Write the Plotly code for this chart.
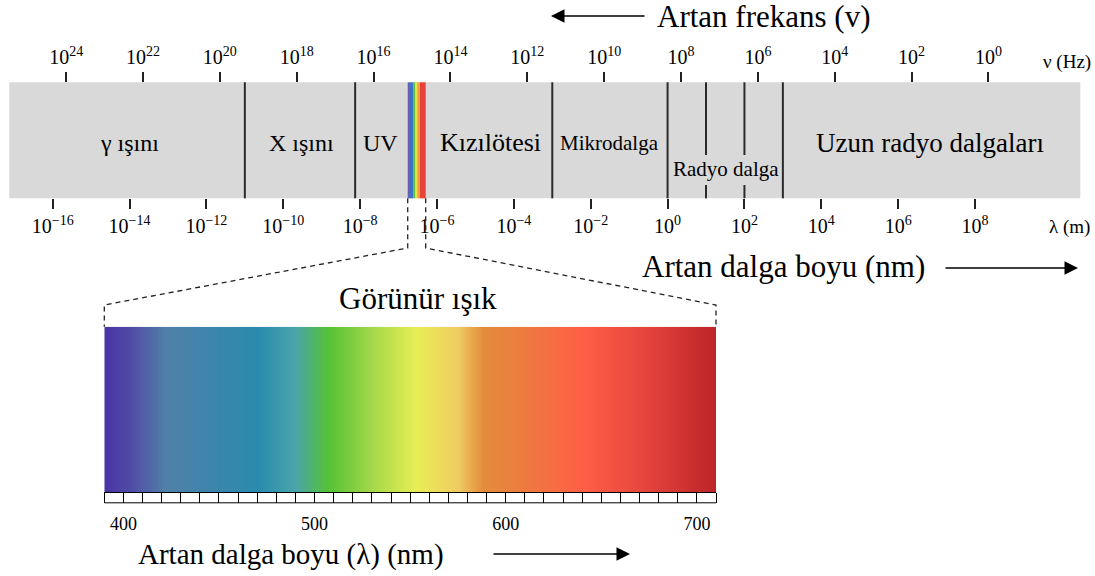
import numpy as np
import plotly.graph_objects as go

W, H = 1095, 576
FONT = "Liberation Serif, Times New Roman, serif"

# ---------------- data ----------------
wavelength_exp = [-16, -14, -12, -10, -8, -6, -4, -2, 0, 2, 4, 6, 8]   # log10(lambda / m)
frequency_exp = [24, 22, 20, 18, 16, 14, 12, 10, 8, 6, 4, 2, 0]         # log10(nu / Hz)
FREQ_OFFSET = 8.35  # log10(nu) + log10(lambda) as drawn on the chart

region_names = ["γ ışını", "X ışını", "UV", "Kızılötesi", "Mikrodalga",
                "Radyo dalga", "Uzun radyo dalgaları"]
region_centers = [-13.99, -9.52, -7.47, -4.62, -1.50, 1.53, 6.84]     # log10(lambda)
region_sizes = [24, 24, 24, 26, 21, 21, 27]
boundaries = [-11.0, -8.13, -3.0, 0.0, 1.0, 2.0, 3.0]                  # log10(lambda)
broken_boundaries = [1.0, 2.0]
band_extent = [-17.13, 10.74]
visible_edges = [-6.762, -6.728, -6.617, -6.565, -6.513, -6.442, -6.294]
visible_colors = ["#6B5CB5", "#3E74C0", "#5CBF45", "#EFE14A", "#F2A23E", "#E8433A"]

spectrum_nm = [390, 405, 422, 470, 490, 507, 530, 553, 575, 588, 610, 640, 670, 710]
spectrum_colors = ["#4A33A6", "#5050A5", "#5080A8", "#2A8BAE", "#4AA5AA", "#55C235",
                   "#A5D84A", "#E8EE55", "#F0CC62", "#E38C3B", "#EE7A40", "#FF5E46",
                   "#E8473E", "#BC2428"]
nm_range = [390, 710]
nm_major = [400, 500, 600, 700]

# ---------------- helpers (pixel -> paper) ----------------
L_MIN, L_MAX = -17.371, 11.122


def X(px):
    return px / W


def Y(py):
    return 1 - py / H


def xL(L):
    return (L - L_MIN) / (L_MAX - L_MIN)


BAND_TOP, BAND_BOT = 82.3, 198.3
SPEC_TOP, SPEC_BOT = 326.7, 492.3
SPEC_LEFT, SPEC_RIGHT = 104.3, 716.0

fig = go.Figure()

# anchor traces for the band axes
fig.add_trace(go.Scatter(x=band_extent, y=[0.5, 0.5], mode="none", xaxis="x", yaxis="y",
                         hoverinfo="skip", showlegend=False))
fig.add_trace(go.Scatter(x=band_extent, y=[0.5, 0.5], mode="none", xaxis="x2", yaxis="y",
                         hoverinfo="skip", showlegend=False))

# visible spectrum gradient
grid = np.arange(nm_range[0], nm_range[1] + 1)
cs = [[(nm - nm_range[0]) / (nm_range[1] - nm_range[0]), c]
      for nm, c in zip(spectrum_nm, spectrum_colors)]
fig.add_trace(go.Heatmap(x=grid, y=[0, 1], z=[grid, grid], colorscale=cs,
                         zmin=nm_range[0], zmax=nm_range[1], showscale=False,
                         zsmooth="best", xaxis="x3", yaxis="y2", hoverinfo="skip"))

shapes = []
# grey band
shapes.append(dict(type="rect", xref="x", yref="paper", x0=band_extent[0], x1=band_extent[1],
                   y0=Y(BAND_BOT), y1=Y(BAND_TOP), fillcolor="#D9D9D9",
                   line=dict(width=0), layer="below"))
# visible strip in the band
for i, c in enumerate(visible_colors):
    shapes.append(dict(type="rect", xref="x", yref="paper", x0=visible_edges[i],
                       x1=visible_edges[i + 1], y0=Y(BAND_BOT), y1=Y(BAND_TOP),
                       fillcolor=c, line=dict(width=0), layer="below"))
# region boundaries
for b in boundaries:
    if b in broken_boundaries:
        segs = [(BAND_TOP, 155), (185, BAND_BOT)]
    else:
        segs = [(BAND_TOP, BAND_BOT)]
    for y0, y1 in segs:
        shapes.append(dict(type="line", xref="x", yref="paper", x0=b, x1=b,
                           y0=Y(y0), y1=Y(y1), line=dict(color="#2a2a2a", width=2)))

# dashed connectors from strip to the spectrum
xl, xr = xL(visible_edges[0]), xL(visible_edges[-1])
for xs, xe in [(xl, X(SPEC_LEFT)), (xr, X(SPEC_RIGHT))]:
    path = (f"M {xs},{Y(BAND_BOT)} L {xs},{Y(248)} L {xe},{Y(305)} L {xe},{Y(SPEC_TOP)}")
    shapes.append(dict(type="path", xref="paper", yref="paper", path=path,
                       line=dict(color="#222", width=1.3, dash="5px,4px")))
# ruler bottom line
shapes.append(dict(type="line", xref="x3", yref="paper", x0=nm_range[0], x1=nm_range[1],
                   y0=Y(502.8), y1=Y(502.8), line=dict(color="black", width=1)))

annotations = []
for name, cx, sz in zip(region_names, region_centers, region_sizes):
    yy = 169 if name == "Radyo dalga" else 143
    annotations.append(dict(x=cx, y=Y(yy), xref="x", yref="paper", text=name,
                            showarrow=False, xanchor="center", yanchor="middle",
                            font=dict(family=FONT, size=sz, color="black")))


def text(t, x, y, size, xanchor="left"):
    annotations.append(dict(x=X(x), y=Y(y), xref="paper", yref="paper", text=t,
                            showarrow=False, xanchor=xanchor, yanchor="middle",
                            font=dict(family=FONT, size=size, color="black")))


def arrow(xhead, xtail, y):
    annotations.append(dict(x=X(xhead), y=Y(y), xref="paper", yref="paper", text="",
                            showarrow=True, ax=xtail - xhead, ay=0, axref="pixel",
                            ayref="pixel", arrowhead=2, arrowsize=1.8, arrowwidth=1.5,
                            arrowcolor="black"))


text("Artan frekans (v)", 655, 16, 31)
arrow(551, 646, 16)
text("ν (Hz)", 1067, 62, 19, "center")
text("λ (m)", 1069, 227, 19, "center")
text("Artan dalga boyu (nm)", 640, 266, 31)
arrow(1078, 944, 268)
text("Görünür ışık", 418, 298, 31, "center")
text("Artan dalga boyu (λ) (nm)", 136, 554, 29)
arrow(630, 492, 554)


def sup(e):
    s = str(e).replace("-", "−")
    return f"10<sup>{s}</sup>"


tickfont = dict(family=FONT, size=20, color="black")
common = dict(range=[L_MIN, L_MAX], showgrid=False, zeroline=False, showline=False,
              ticks="outside", ticklen=10, tickwidth=2, tickcolor="#222",
              tickfont=tickfont, fixedrange=True)

ruler_vals = list(range(nm_range[0], nm_range[1] + 1, 10))
ruler_text = [str(v) if v in nm_major else "" for v in ruler_vals]

fig.update_layout(
    width=W, height=H, margin=dict(l=0, r=0, t=0, b=0),
    paper_bgcolor="white", plot_bgcolor="rgba(0,0,0,0)",
    showlegend=False,
    xaxis=dict(domain=[0, 1], anchor="free", position=Y(BAND_BOT), side="bottom",
               tickmode="array", tickvals=wavelength_exp,
               ticktext=[sup(e) for e in wavelength_exp], **common),
    xaxis2=dict(domain=[0, 1], overlaying="x", anchor="free", position=Y(BAND_TOP), side="top",
                tickmode="array", tickvals=[FREQ_OFFSET - k for k in frequency_exp],
                ticktext=[sup(k) for k in frequency_exp], **common),
    yaxis=dict(domain=[0, 1], range=[0, 1], visible=False, fixedrange=True),
    xaxis3=dict(domain=[X(SPEC_LEFT), X(SPEC_RIGHT)], range=nm_range, anchor="y2",
                side="bottom", tickmode="array", tickvals=ruler_vals, ticktext=ruler_text,
                ticks="outside", ticklen=10, tickwidth=1, tickcolor="black",
                showline=True, linecolor="black", linewidth=1, showgrid=False,
                zeroline=False, ticklabelstandoff=5,
                tickfont=dict(family=FONT, size=18, color="black"), fixedrange=True),
    yaxis2=dict(domain=[Y(SPEC_BOT), Y(SPEC_TOP)], range=[0, 1], visible=False,
                anchor="x3", fixedrange=True),
    shapes=shapes, annotations=annotations,
)

fig.write_html("out.html")
